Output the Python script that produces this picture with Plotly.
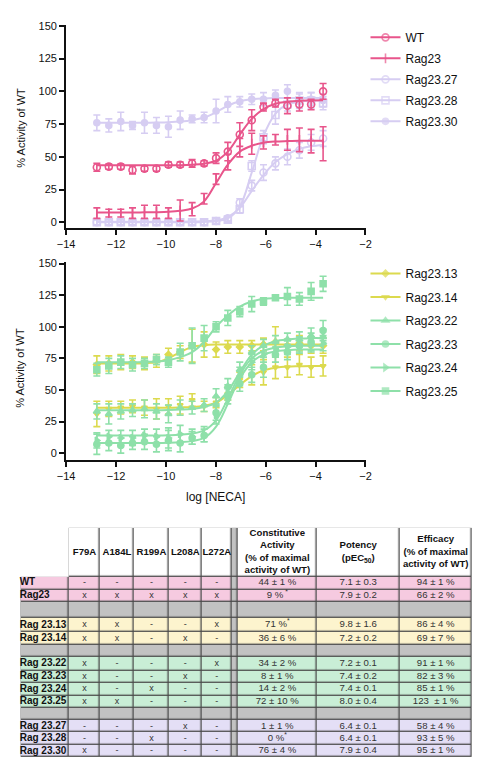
import plotly.graph_objects as go

W, H = 480, 764

# ---------------- data ----------------
logNECA = [-12.77, -12.29, -11.81, -11.34, -10.86, -10.38, -9.90, -9.43, -8.95, -8.47,
           -7.99, -7.52, -7.04, -6.56, -6.09, -5.61, -5.13, -4.65, -4.18, -3.70]

# top panel
wt_mean = [42, 42.5, 42.5, 40, 41, 41, 44, 44, 45, 45, 49, 54, 67, 78, 88, 91, 89, 90, 90, 100]
wt_sem = [3, 2, 2, 3, 2, 2, 2, 2, 3, 2, 4, 7, 9, 8, 3, 3, 6, 5, 4, 6]
wt_fit = [43.5, 43.5, 43.5, 43.5, 43.5, 43.5, 43.5, 43.6, 44, 44.8, 47, 54, 67, 79, 86.5, 90.5, 92, 92.8, 93, 93.2]

rag23_mean = [7, 7, 7, 7, 8, 8, 7, 9, 10, 18, 33, 46, 57, 60, 61, 63, 63, 63, 62, 60]
rag23_sem = [4, 3, 3, 4, 5, 5, 4, 8, 5, 4, 4, 6, 7, 8, 5, 4, 8, 9, 9, 13]
rag23_fit = [7.5, 7.5, 7.5, 7.5, 7.6, 7.7, 8, 8.8, 10.5, 16, 30, 44, 54, 58.5, 60.8, 61.7, 62, 62.2, 62.3, 62.3]

r27_mean = [0, 0, 0, 0, 0, 0, 0, 0, 0, 0, 1, 3, 15, 28, 38, 45, 50, 55, 61, 64]
r27_sem = [2, 2, 2, 2, 2, 2, 2, 2, 2, 2, 2, 2, 3, 4, 6, 5, 6, 6, 6, 6]
r27_fit = [0.5, 0.5, 0.5, 0.5, 0.5, 0.5, 0.5, 0.5, 0.6, 0.8, 1.5, 4, 11, 24, 36, 46, 52, 56, 58, 59]

r28_mean = [0, 0, 0, 0, 0, 0, 0, 0, 0, 0, 1, 2, 10, 43, 65, 82, 90, 93, 93, 91]
r28_sem = [2, 2, 2, 2, 2, 2, 2, 2, 2, 2, 2, 2, 3, 4, 5, 7, 5, 6, 6, 5]
r28_fit = [0, 0, 0, 0, 0, 0, 0, 0, 0.1, 0.3, 1, 3, 12, 38, 66, 83, 90, 92, 93, 93]

r30_mean = [76, 74, 77, 74, 76, 74, 73, 78, 79, 80, 85, 90, 92, 94, 94, 97, 100, 93, 94, 93]
r30_sem = [6, 5, 7, 3, 8, 6, 8, 7, 3, 4, 9, 6, 4, 4, 5, 4, 5, 5, 5, 5]
r30_fit = [76, 76, 76, 76, 76, 76.2, 76.5, 77, 78, 80, 84, 89, 92.5, 94, 94.6, 94.9, 95, 95, 95, 95]

# bottom panel
r13_mean = [70, 71, 72, 72, 71, 73, 78, 80, 85, 86, 82, 84, 84, 85, 86, 88, 85, 87, 85, 85]
r13_sem = [7, 6, 6, 5, 5, 5, 5, 5, 13, 10, 6, 5, 5, 4, 5, 12, 5, 6, 6, 6]
r13_fit = [71, 71, 71, 71, 71.2, 72, 75, 80, 84, 85.5, 86, 86, 86, 86, 86, 86, 86, 86, 86, 86]

r14_mean = [31, 35, 36, 37, 36, 35, 37, 38, 42, 37, 40, 47, 58, 62, 64, 68, 68, 70, 68, 69]
r14_sem = [10, 6, 5, 5, 6, 8, 6, 7, 5, 4, 4, 5, 6, 8, 10, 9, 8, 8, 8, 8]
r14_fit = [36, 36, 36, 36, 36, 36, 36, 36.2, 36.5, 37.5, 40, 46, 54, 61, 65.5, 67.5, 68.5, 68.8, 69, 69]

r22_mean = [33, 31, 33, 34, 35, 33, 31, 36, 36, 38, 45, 53, 66, 80, 85, 88, 90, 90, 93, 92]
r22_sem = [6, 8, 6, 5, 7, 6, 7, 6, 5, 5, 6, 6, 6, 5, 5, 5, 5, 6, 6, 6]
r22_fit = [34, 34, 34, 34, 34, 34, 34.2, 34.5, 35, 36.5, 40, 49, 64, 78, 85, 88.5, 90, 90.7, 91, 91]

r23_mean = [7, 8, 6, 8, 9, 7, 10, 8, 12, 14, 32, 45, 55, 62, 68, 78, 80, 85, 88, 97]
r23_sem = [8, 6, 6, 5, 6, 6, 8, 7, 5, 5, 6, 6, 6, 6, 8, 6, 6, 6, 7, 8]
r23_fit = [8, 8, 8, 8, 8, 8, 8.2, 8.6, 9.5, 12, 21, 39, 59, 72, 78, 80.5, 81.5, 82, 82, 82]

r24_mean = [10, 13, 12, 12, 14, 13, 12, 15, 13, 15, 30, 48, 62, 72, 78, 82, 84, 86, 86, 87]
r24_sem = [6, 5, 6, 6, 5, 6, 8, 7, 6, 6, 7, 6, 6, 6, 6, 6, 6, 6, 6, 6]
r24_fit = [14, 14, 14, 14, 14, 14, 14.2, 14.6, 15.5, 18, 26, 43, 62, 75, 81, 83.5, 84.5, 85, 85, 85]

r25_mean = [66, 69, 72, 70, 71, 74, 72, 80, 85, 91, 100, 107, 112, 118, 120, 123, 124, 122, 128, 134]
r25_sem = [5, 6, 5, 5, 4, 4, 4, 7, 14, 10, 4, 6, 4, 6, 3, 2, 7, 5, 7, 6]
r25_fit = [72, 72, 72, 72, 72.2, 72.5, 73.5, 76, 80, 88, 100, 109, 116, 120, 122, 122.6, 122.9, 123, 123, 123]

x_ticks = [-14, -12, -10, -8, -6, -4, -2]
y_ticks = [0, 25, 50, 75, 100, 125, 150]

# table data
tbl_rows = ["WT", "Rag23", "", "Rag 23.13", "Rag 23.14", "", "Rag 23.22", "Rag 23.23",
            "Rag 23.24", "Rag 23.25", "", "Rag 23.27", "Rag 23.28", "Rag 23.30"]
tbl_group = ["pink", "pink", "gap", "yellow", "yellow", "gap", "green", "green",
             "green", "green", "gap", "lav", "lav", "lav"]
tbl_mut_cols = ["F79A", "A184L", "R199A", "L208A", "L272A"]
tbl_stat_cols = ["Constitutive<br>Activity<br>(% of maximal<br>activity of WT)",
                 "Potency<br>(pEC<sub>50</sub>)",
                 "Efficacy<br>(% of maximal<br>activity of WT)"]
tbl_F79A = ["-", "x", "", "x", "x", "", "x", "x", "x", "x", "", "-", "-", "x"]
tbl_A184L = ["-", "x", "", "x", "x", "", "-", "-", "-", "x", "", "-", "-", "-"]
tbl_R199A = ["-", "x", "", "-", "-", "", "-", "-", "x", "-", "", "-", "x", "-"]
tbl_L208A = ["-", "x", "", "-", "x", "", "-", "x", "-", "-", "", "x", "-", "-"]
tbl_L272A = ["-", "x", "", "x", "-", "", "x", "-", "-", "-", "", "-", "-", "-"]
tbl_const = ["44 ± 1 %", "9 %<sup> *</sup>", "", "71 %<sup>*</sup>", "36 ± 6 %", "", "34 ± 2 %",
             "8 ± 1 %", "14 ± 2 %", "72 ± 10 %", "", "1 ± 1 %", "0 %<sup>*</sup>", "76 ± 4 %"]
tbl_pot = ["7.1 ± 0.3", "7.9 ± 0.2", "", "9.8 ± 1.6", "7.2 ± 0.2", "", "7.2 ± 0.1",
           "7.4 ± 0.2", "7.4 ± 0.1", "8.0 ± 0.4", "", "6.4 ± 0.1", "6.4 ± 0.1", "7.9 ± 0.4"]
tbl_eff = ["94 ± 1 %", "66 ± 2 %", "", "86 ± 4 %", "69 ± 7 %", "", "91 ± 1 %", "82 ± 3 %",
           "85 ± 1 %", "123  ± 1 %", "", "58 ± 4 %", "93 ± 5 %", "95 ± 1 %"]

# ---------------- styles ----------------
PINK = "#E8558B"
LAV = "#D6CDF2"
YEL = "#DCDA4E"
GRN = "#8EE0A9"
FONT = "Liberation Sans, Arial, sans-serif"

fig = go.Figure()


def add_series(name, mean, sem, fit, color, symbol, size, xa, ya, legend):
    # fitted curve; the trailing None point is never drawn, it only sets the legend marker size
    fig.add_trace(go.Scatter(
        x=logNECA + [None], y=fit + [None], mode="lines+markers", name=name,
        line=dict(color=color, width=2, shape="spline", smoothing=1.0),
        marker=dict(symbol=symbol, color=color, size=[0] * len(fit) + [size * (len(fit) + 1)],
                    line=dict(color=color, width=1.6)),
        xaxis=xa, yaxis=ya, legend=legend, legendgroup=name, hoverinfo="skip"))
    fig.add_trace(go.Scatter(
        x=logNECA, y=mean, mode="markers", name=name, showlegend=False,
        marker=dict(symbol=symbol, color=color, size=size, line=dict(color=color, width=1.6)),
        error_y=dict(type="data", array=sem, color=color, thickness=1.6, width=3.5),
        xaxis=xa, yaxis=ya, legendgroup=name, hoverinfo="skip"))


add_series("Rag23.27", r27_mean, r27_sem, r27_fit, LAV, "circle-open", 7, "x", "y", "legend")
add_series("Rag23.28", r28_mean, r28_sem, r28_fit, LAV, "square-open", 7, "x", "y", "legend")
add_series("Rag23.30", r30_mean, r30_sem, r30_fit, LAV, "circle", 6, "x", "y", "legend")
add_series("WT", wt_mean, wt_sem, wt_fit, PINK, "circle-open", 7, "x", "y", "legend")
add_series("Rag23", rag23_mean, rag23_sem, rag23_fit, PINK, "line-ns", 7, "x", "y", "legend")

add_series("Rag23.13", r13_mean, r13_sem, r13_fit, YEL, "diamond", 5, "x2", "y2", "legend2")
add_series("Rag23.14", r14_mean, r14_sem, r14_fit, YEL, "triangle-down", 5, "x2", "y2", "legend2")
add_series("Rag23.22", r22_mean, r22_sem, r22_fit, GRN, "triangle-up", 6, "x2", "y2", "legend2")
add_series("Rag23.23", r23_mean, r23_sem, r23_fit, GRN, "circle", 6, "x2", "y2", "legend2")
add_series("Rag23.24", r24_mean, r24_sem, r24_fit, GRN, "triangle-right", 6, "x2", "y2", "legend2")
add_series("Rag23.25", r25_mean, r25_sem, r25_fit, GRN, "square", 6, "x2", "y2", "legend2")

order_top = ["WT", "Rag23", "Rag23.27", "Rag23.28", "Rag23.30"]
order_bot = ["Rag23.13", "Rag23.14", "Rag23.22", "Rag23.23", "Rag23.24", "Rag23.25"]
for tr in fig.data:
    if tr.name in order_top:
        tr.legendrank = order_top.index(tr.name) + 1
    elif tr.name in order_bot:
        tr.legendrank = order_bot.index(tr.name) + 1

# ---------------- table ----------------
col_edges = [12, 62, 94, 129, 165, 199, 230, 236, 318, 403, 478]
row_edges = [527, 576, 589, 602, 618, 632, 645, 657, 671, 683, 696, 708, 721, 733, 746, 758]
grp_idx = {"white": 0, "pink": 1, "yellow": 2, "green": 3, "lav": 4, "gap": 5}
cscale = [[0.0, "#FFFFFF"], [0.2, "#F6CAE0"], [0.4, "#FDF4CE"], [0.6, "#C9EED6"],
          [0.8, "#E4DFF6"], [1.0, "#C2C2C2"]]

z = [[None, 0, 0, 0, 0, 0, 5, 0, 0, 0]]
for g in tbl_group:
    c = grp_idx[g]
    z.append([c] * 6 + [5] + [c] * 3)
zbg = [[None if v is None else 0 for v in row] for row in z]

fig.add_trace(go.Heatmap(x=col_edges, y=row_edges, z=zbg, zmin=0, zmax=1,
                         colorscale=[[0, "#4A4A4A"], [1, "#4A4A4A"]], showscale=False,
                         xaxis="x3", yaxis="y3", hoverinfo="skip"))
fig.add_trace(go.Heatmap(x=col_edges, y=row_edges, z=z, zmin=0, zmax=5, colorscale=cscale,
                         showscale=False, xgap=1.3, ygap=1.3,
                         xaxis="x3", yaxis="y3", hoverinfo="skip"))

xc = [(col_edges[i] + col_edges[i + 1]) / 2 for i in range(len(col_edges) - 1)]
yc = [(row_edges[i] + row_edges[i + 1]) / 2 for i in range(len(row_edges) - 1)]


def add_text(xs, ys, texts, size, color, position="middle center"):
    keep = [i for i, t in enumerate(texts) if t]
    fig.add_trace(go.Scatter(x=[xs[i] for i in keep], y=[ys[i] for i in keep],
                             text=[texts[i] for i in keep], mode="text", textposition=position,
                             textfont=dict(family=FONT, size=size, color=color),
                             xaxis="x3", yaxis="y3", hoverinfo="skip", showlegend=False,
                             cliponaxis=False))


hdr_text = ["<b>%s</b>" % t for t in tbl_mut_cols] + ["<b>%s</b>" % t for t in tbl_stat_cols]
hdr_x = xc[1:6] + xc[7:10]
add_text(hdr_x, [yc[0]] * len(hdr_x), hdr_text, 9.6, "#111")
add_text([11] * len(tbl_rows), yc[1:], ["<b>%s</b>" % t if t else "" for t in tbl_rows], 10, "#111",
         "middle right")
for j, col in enumerate([tbl_F79A, tbl_A184L, tbl_R199A, tbl_L208A, tbl_L272A]):
    add_text([xc[1 + j]] * len(col), yc[1:], col, 9, "#333")
for j, col in enumerate([tbl_const, tbl_pot, tbl_eff]):
    add_text([xc[7 + j]] * len(col), yc[1:], col, 9.6, "#333")

# ---------------- layout ----------------
def PX(v):
    return v / W


def PY(v):
    return 1 - v / H


axis_common = dict(showline=True, linecolor="#111", linewidth=2, ticks="outside", ticklen=5,
                   tickwidth=2, tickcolor="#111", showgrid=False, zeroline=False,
                   tickfont=dict(family=FONT, size=11, color="#111"), fixedrange=True)

fig.update_layout(
    width=W, height=H, margin=dict(l=0, r=0, t=0, b=0),
    paper_bgcolor="white", plot_bgcolor="rgba(0,0,0,0)",
    font=dict(family=FONT, color="#111"),
    xaxis=dict(domain=[PX(59), PX(368)], range=[-14, -2], tickvals=x_ticks, anchor="y", **axis_common),
    yaxis=dict(domain=[PY(224.3), PY(20)], range=[-4, 150.8], tickvals=y_ticks, anchor="x", **axis_common),
    xaxis2=dict(domain=[PX(59), PX(368)], range=[-14, -2], tickvals=x_ticks, anchor="y2", **axis_common),
    yaxis2=dict(domain=[PY(458.3), PY(259.5)], range=[-5.2, 150.9], tickvals=y_ticks, anchor="x2", **axis_common),
    xaxis3=dict(domain=[0, 1], range=[0, W], visible=False, anchor="y3", fixedrange=True),
    yaxis3=dict(domain=[0, 1], range=[H, 0], visible=False, anchor="x3", fixedrange=True),
    legend=dict(x=PX(368), y=PY(18), xanchor="left", yanchor="top", bgcolor="rgba(0,0,0,0)",
                font=dict(family=FONT, size=12, color="#111"), tracegroupgap=2, itemwidth=30),
    legend2=dict(x=PX(368), y=PY(256), xanchor="left", yanchor="top", bgcolor="rgba(0,0,0,0)",
                 font=dict(family=FONT, size=12, color="#111"), tracegroupgap=4.5, itemwidth=30),
    annotations=[
        dict(text="% Activity of WT", x=PX(12), y=PY(124), xref="paper", yref="paper",
             xanchor="center", yanchor="middle",
             textangle=-90, showarrow=False, font=dict(family=FONT, size=11, color="#111")),
        dict(text="% Activity of WT", x=PX(12), y=PY(366), xref="paper", yref="paper",
             xanchor="center", yanchor="middle",
             textangle=-90, showarrow=False, font=dict(family=FONT, size=11, color="#111")),
        dict(text="log [NECA]", x=PX(213), y=PY(496), xref="paper", yref="paper",
             xanchor="center", yanchor="middle",
             showarrow=False, font=dict(family=FONT, size=12, color="#111")),
    ],
)

fig.write_html("out.html")
